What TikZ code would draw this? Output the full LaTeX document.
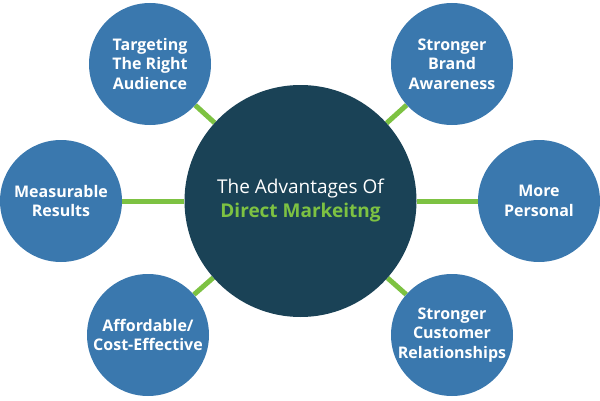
\documentclass[tikz,border=0pt]{standalone}
\usepackage{fontspec}
\setmainfont{Open Sans}
\usepackage{tikz}
\usetikzlibrary{positioning,backgrounds}
\definecolor{hubteal}{HTML}{1A4256}
\definecolor{leafblue}{HTML}{3A78AE}
\definecolor{linkgreen}{HTML}{7DC242}

\begin{document}
\begin{tikzpicture}[
    x=1pt, y=1pt,
    hub/.style={circle, fill=hubteal, minimum size=232pt, inner sep=0pt, text=white, align=center, font=\fontsize{19}{24}\selectfont},
    leaf/.style={circle, fill=leafblue, minimum size=122pt, inner sep=0pt, text=white, align=center, font=\fontsize{16}{19.5}\selectfont\bfseries},
    link/.style={draw=linkgreen, line width=5pt}
]
    \useasboundingbox (0,0) rectangle (600,400);

    % Centre
    \node[hub] (hub) at (300.5,199) {The Advantages Of\\\textcolor{linkgreen}{\bfseries Direct Markeitng}};

    % Advantages
    \node[leaf] (audience) at (150,336) {Targeting\\The Right\\Audience};
    \node[leaf] (brand) at (452,336) {Stronger\\Brand\\Awareness};
    \node[leaf] (results) at (61,199) {Measurable\\Results};
    \node[leaf] (personal) at (539,199) {More\\Personal};
    \node[leaf] (cost) at (148,65) {Affordable/\\Cost-Effective};
    \node[leaf] (relations) at (452,65) {Stronger\\Customer\\Relationships};

    % Links
    \begin{scope}[on background layer]
        \draw[link] (hub) -- (audience);
        \draw[link] (hub) -- (brand);
        \draw[link] (hub) -- (results);
        \draw[link] (hub) -- (personal);
        \draw[link] (hub) -- (cost);
        \draw[link] (hub) -- (relations);
    \end{scope}
\end{tikzpicture}
\end{document}
